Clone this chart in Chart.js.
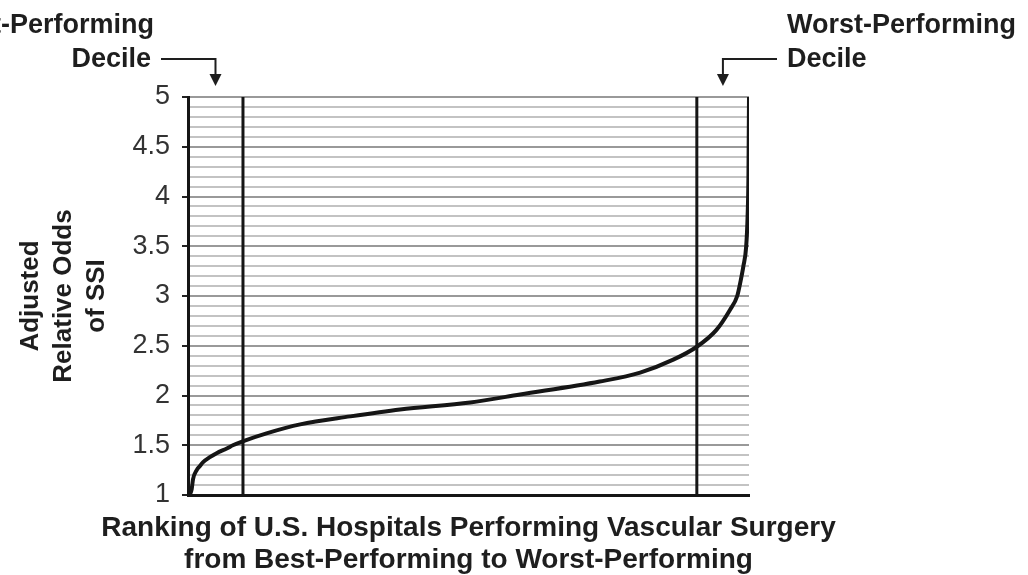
<!DOCTYPE html>
<html>
<head>
<meta charset="utf-8">
<title>Adjusted Relative Odds of SSI</title>
<script src="https://cdn.jsdelivr.net/npm/chart.js@4.4.1/dist/chart.umd.min.js"></script>
<style>
  html, body { margin: 0; padding: 0; background: #fff; }
  canvas { display: block; }
</style>
</head>
<body>
<canvas id="ssiChart" width="1028" height="575"></canvas>
<script>
  // hospital rank in percent, 0 = best performing, 100 = worst performing
  const rank_pct = [0.3, 0.66, 0.9, 1.55, 2.1, 2.7, 3.9, 5.1, 7.0, 8.0, 9.75, 14.0, 20.0, 28.9, 37.8, 50.3, 59.2, 73.4, 80.6, 86.5, 90.7, 94.2, 96.6, 97.9, 98.5, 99.0, 99.5, 99.75, 99.9, 100];
  const adj_odds = [1.0, 1.06, 1.16, 1.25, 1.29, 1.33, 1.38, 1.42, 1.47, 1.50, 1.54, 1.62, 1.71, 1.79, 1.86, 1.93, 2.01, 2.14, 2.23, 2.36, 2.49, 2.66, 2.86, 3.0, 3.15, 3.3, 3.5, 3.8, 4.2, 5.0];
  // where the best / worst decile cut lines sit on the rank axis
  const decile_cuts = [9.8, 90.7];
  const y_min = 1, y_max = 5, y_step = 0.1, y_label_step = 0.5;
  const y_title = ['Adjusted', 'Relative Odds', 'of SSI'];
  const x_title = ['Ranking of U.S. Hospitals Performing Vascular Surgery', 'from Best-Performing to Worst-Performing'];
  const best_label = ['Best-Performing', 'Decile'];
  const worst_label = ['Worst-Performing', 'Decile'];

  const FONT = '"Liberation Sans", Arial, Helvetica, sans-serif';

  function isMajor(v) {
    const k = v / y_label_step;
    return Math.abs(k - Math.round(k)) < 1e-6;
  }

  function drawArrow(c, fromX, toX, y, tipY) {
    c.beginPath();
    c.moveTo(fromX, y);
    c.lineTo(toX, y);
    c.lineTo(toX, tipY - 9);
    c.stroke();
    c.beginPath();
    c.moveTo(toX - 6, tipY - 12);
    c.lineTo(toX + 6, tipY - 12);
    c.lineTo(toX, tipY);
    c.closePath();
    c.fill();
  }

  // decile labels + arrows on top, two-line x title below (drawn by hand so it is not squeezed to the plot width)
  const decileNotes = {
    id: 'decileNotes',
    afterDraw(chart) {
      const c = chart.ctx;
      const xs = chart.scales.x;
      const area = chart.chartArea;
      c.save();
      c.fillStyle = '#1e1e1e';
      c.strokeStyle = '#1e1e1e';
      c.lineWidth = 2;
      c.font = 'bold 27px ' + FONT;
      c.textBaseline = 'alphabetic';
      c.textAlign = 'right';
      c.fillText(best_label[0], 154, 33);
      c.fillText(best_label[1], 151, 67);
      c.textAlign = 'left';
      c.fillText(worst_label[0], 787, 33);
      c.fillText(worst_label[1], 787, 67);
      // arrows point at the middle of each decile band
      const ax1 = xs.getPixelForValue(decile_cuts[0] / 2);
      const ax2 = xs.getPixelForValue((decile_cuts[1] + 100) / 2);
      drawArrow(c, 161, ax1, 59, area.top - 11);
      drawArrow(c, 777, ax2, 59, area.top - 11);

      c.textAlign = 'center';
      c.font = 'bold 28px ' + FONT;
      const cx = (area.left + area.right) / 2;
      c.fillText(x_title[0], cx, 536);
      c.fillText(x_title[1], cx, 568);
      c.restore();
    }
  };

  const curve = rank_pct.map((r, i) => ({x: r, y: adj_odds[i]}));
  const cutSets = decile_cuts.map(cut => ({
    data: [{x: cut, y: y_min}, {x: cut, y: y_max}],
    borderColor: '#151515',
    borderWidth: 3,
    pointRadius: 0,
    tension: 0
  }));

  const config = {
    type: 'line',
    data: {
      datasets: [{
        label: 'Adjusted Relative Odds of SSI',
        data: curve,
        borderColor: '#151515',
        borderWidth: 4,
        pointRadius: 0,
        cubicInterpolationMode: 'monotone'
      }].concat(cutSets)
    },
    options: {
      responsive: false,
      animation: false,
      devicePixelRatio: 1,
      layout: { padding: {top: 97, right: 279, left: 0, bottom: 0} },
      plugins: {
        legend: {display: false},
        tooltip: {enabled: false}
      },
      scales: {
        x: {
          type: 'linear',
          min: 0,
          max: 100,
          grid: {display: false},
          ticks: {display: false},
          border: {display: true, color: '#151515', width: 3},
          afterFit(scale) { scale.height = 80; }
        },
        y: {
          min: y_min,
          max: y_max,
          grid: {
            color: ctx => isMajor(ctx.tick.value) ? '#999' : '#c3c3c3',
            tickColor: ctx => isMajor(ctx.tick.value) ? '#222' : 'rgba(0,0,0,0)',
            lineWidth: 2,
            tickLength: 6,
            tickWidth: 2
          },
          border: {display: true, color: '#151515', width: 3},
          ticks: {
            stepSize: y_step,
            autoSkip: false,
            padding: 12,
            color: '#333',
            font: {family: FONT, size: 27},
            callback: v => isMajor(v) ? String(Math.round(v * 10) / 10) : ''
          },
          title: {
            display: true,
            text: y_title,
            color: '#1e1e1e',
            font: {family: FONT, size: 26, weight: 'bold', lineHeight: 1.28},
            padding: {top: 14, bottom: 0}
          },
          afterFit(scale) { scale.width = 188; }
        }
      }
    },
    plugins: [decileNotes]
  };

  document.addEventListener('DOMContentLoaded', function () {
    const ctx = document.getElementById('ssiChart').getContext('2d');
    new Chart(ctx, config);
  });
</script>
</body>
</html>
